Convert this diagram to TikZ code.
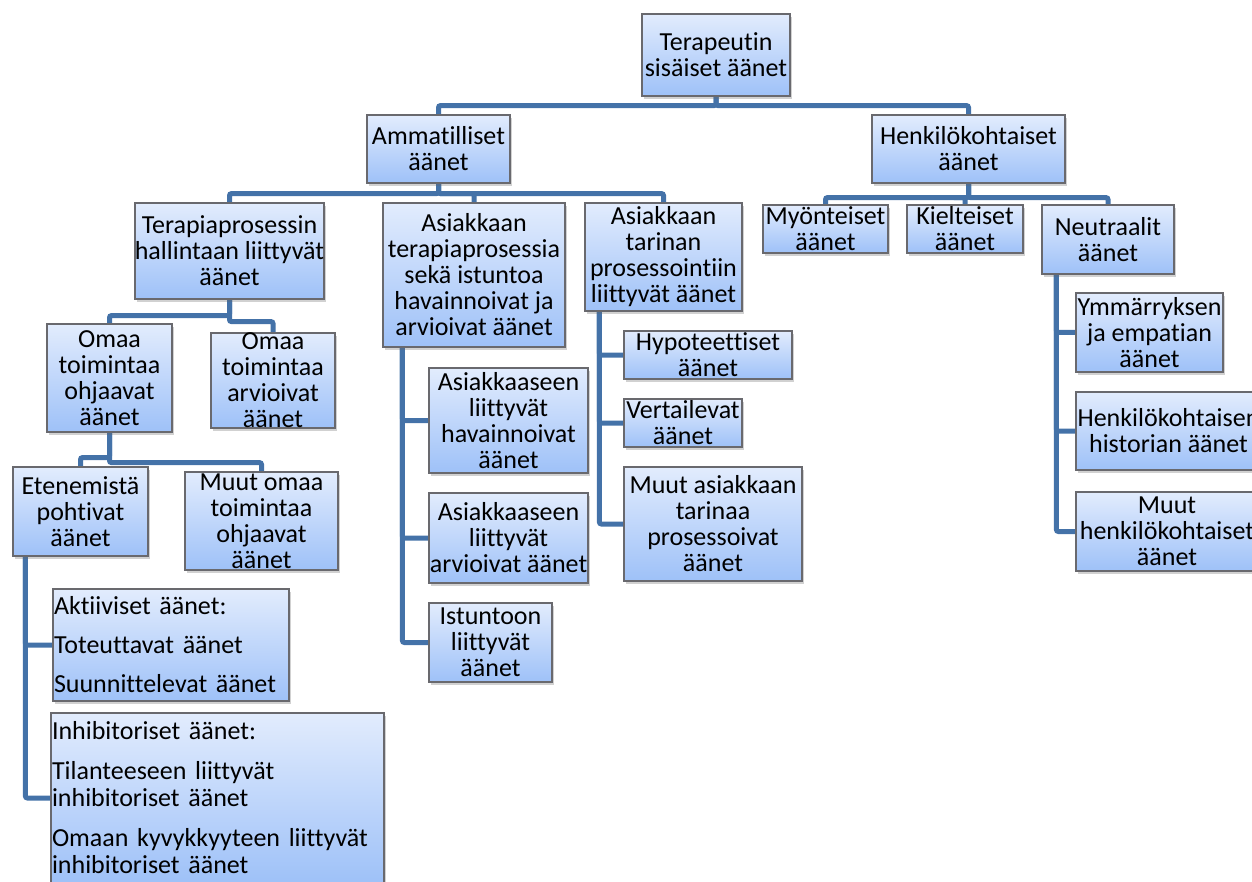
\documentclass[tikz,border=0pt]{standalone}
\usepackage{fontspec}
\setmainfont{Carlito}[Ligatures=NoCommon]
\usetikzlibrary{shadows,backgrounds}
\definecolor{linkblue}{RGB}{68,114,168}
\definecolor{boxtop}{RGB}{226,236,253}
\definecolor{boxbot}{RGB}{158,193,248}
\definecolor{boxrim}{RGB}{105,105,110}
\tikzset{
  box/.style={draw=boxrim, line width=1.2pt, top color=boxtop, bottom color=boxbot,
    drop shadow={shadow xshift=2pt, shadow yshift=-3pt, opacity=.3, fill=black!60},
    inner sep=0pt},
  lbl/.style={align=center, inner sep=0pt, font=\fontsize{26}{26}\selectfont},
  listbox/.style={box, align=left, inner xsep=1pt, font=\fontsize{26}{27}\selectfont},
  conn/.style={draw=linkblue, line width=5pt, rounded corners=2pt},
}
\begin{document}
\begin{tikzpicture}[x=1pt,y=-1pt]
\useasboundingbox (0,0) rectangle (1252,882);
% top levels
\node[box, minimum width=148pt, minimum height=82pt, label={[lbl]center:{Terapeutin\\sisäiset äänet}}] (root) at (716,55) {};
\node[box, minimum width=143pt, minimum height=68pt, label={[lbl]center:{Ammatilliset\\äänet}}] (amm) at (438.5,149) {};
\node[box, minimum width=193pt, minimum height=68pt, label={[lbl]center:{Henkilökohtaiset\\äänet}}] (hen) at (968.5,149) {};
% ammatilliset
\node[box, minimum width=189pt, minimum height=96pt, label={[lbl]center:{Terapiaprosessin\\hallintaan liittyvät\\äänet}}] (ter) at (229.5,251) {};
\node[box, minimum width=182pt, minimum height=144pt, label={[lbl]center:{Asiakkaan\\terapiaprosessia\\sekä istuntoa\\havainnoivat ja\\arvioivat äänet}}] (asi) at (474,275) {};
\node[box, minimum width=157pt, minimum height=108pt, label={[lbl]center:{Asiakkaan\\tarinan\\prosessointiin\\liittyvät äänet}}] (tar) at (663.5,257) {};
% henkilokohtaiset
\node[box, minimum width=125pt, minimum height=48pt, label={[lbl]center:{Myönteiset\\äänet}}] (myo) at (825.5,229) {};
\node[box, minimum width=116pt, minimum height=48pt, label={[lbl]center:{Kielteiset\\äänet}}] (kie) at (965,229) {};
\node[box, minimum width=132pt, minimum height=69pt, label={[lbl]center:{Neutraalit\\äänet}}] (neu) at (1108,239.5) {};
% terapiaprosessin hallinta
\node[box, minimum width=125pt, minimum height=108pt, label={[lbl]center:{Omaa\\toimintaa\\ohjaavat\\äänet}}] (ohj) at (109.5,378) {};
\node[box, minimum width=124pt, minimum height=95pt, label={[lbl]center:{Omaa\\toimintaa\\arvioivat\\äänet}}] (arv) at (273,380.5) {};
\node[box, minimum width=135pt, minimum height=89pt, label={[lbl]center:{Etenemistä\\pohtivat\\äänet}}] (ete) at (80.5,511.5) {};
\node[box, minimum width=153pt, minimum height=98pt, label={[lbl]center:{Muut omaa\\toimintaa\\ohjaavat\\äänet}}] (muo) at (261.5,521) {};
\node[listbox, text width=234pt, minimum height=112pt] (akt) at (171,645) {Aktiiviset äänet:\\[12pt]Toteuttavat äänet\\[12pt]Suunnittelevat äänet};
\node[listbox, text width=331pt, minimum height=170pt] (inh) at (217.5,798) {Inhibitoriset äänet:\\[13pt]Tilanteeseen liittyvät\\inhibitoriset äänet\\[13pt]Omaan kyvykkyyteen liittyvät\\inhibitoriset äänet};
% asiakkaan terapiaprosessi
\node[box, minimum width=159pt, minimum height=105pt, label={[lbl]center:{Asiakkaaseen\\liittyvät\\havainnoivat\\äänet}}] (hav) at (508.5,420.5) {};
\node[box, minimum width=159pt, minimum height=90pt, label={[lbl]center:{Asiakkaaseen\\liittyvät\\arvioivat äänet}}] (arvi) at (508.5,538) {};
\node[box, minimum width=123pt, minimum height=79pt, label={[lbl]center:{Istuntoon\\liittyvät\\äänet}}] (ist) at (490.5,642.5) {};
% asiakkaan tarina
\node[box, minimum width=168pt, minimum height=48pt, label={[lbl]center:{Hypoteettiset\\äänet}}] (hyp) at (708,355) {};
\node[box, minimum width=118pt, minimum height=48pt, label={[lbl]center:{Vertailevat\\äänet}}] (ver) at (683,423) {};
\node[box, minimum width=178pt, minimum height=114pt, label={[lbl]center:{Muut asiakkaan\\tarinaa\\prosessoivat\\äänet}}] (mua) at (713,524) {};
% neutraalit
\node[box, minimum width=147pt, minimum height=79pt, label={[lbl]center:{Ymmärryksen\\ja empatian\\äänet}}] (ymm) at (1149.5,332.5) {};
\node[box, minimum width=185pt, minimum height=78pt, label={[lbl]center:{Henkilökohtaisen\\historian äänet}}] (hhi) at (1168.5,431) {};
\node[box, minimum width=182pt, minimum height=79pt, label={[lbl]center:{Muut\\henkilökohtaiset\\äänet}}] (mhe) at (1167,531.5) {};
% connectors
\begin{scope}[on background layer]
\draw[conn] (root.south) -- ++(0,9) -| (amm.north);
\draw[conn] (root.south) -- ++(0,9) -| (hen.north);
\draw[conn] (amm.south) -- ++(0,10) -| (ter.north);
\draw[conn] (amm.south) -- ++(0,10) -| (asi.north);
\draw[conn] (amm.south) -- ++(0,10) -| (tar.north);
\draw[conn] (hen.south) -- ++(0,14) -| (myo.north);
\draw[conn] (hen.south) -- ++(0,14) -| (kie.north);
\draw[conn] (hen.south) -- ++(0,14) -| (neu.north);
\draw[conn] (ter.south) -- ++(0,16) -| (ohj.north);
\draw[conn] (ter.south) -- ++(0,22) -| (arv.north);
\draw[conn] (ohj.south) -- ++(0,25) -| (ete.north);
\draw[conn] (ohj.south) -- ++(0,30) -| (muo.north);
\draw[conn] (ete.south west) ++(13,0) |- (akt.west);
\draw[conn] (ete.south west) ++(13,0) |- (inh.west);
\draw[conn] (asi.south west) ++(20,0) |- (hav.west);
\draw[conn] (asi.south west) ++(20,0) |- (arvi.west);
\draw[conn] (asi.south west) ++(20,0) |- (ist.west);
\draw[conn] (tar.south west) ++(15,0) |- (hyp.west);
\draw[conn] (tar.south west) ++(15,0) |- (ver.west);
\draw[conn] (tar.south west) ++(15,0) |- (mua.west);
\draw[conn] (neu.south west) ++(15,0) |- (ymm.west);
\draw[conn] (neu.south west) ++(15,0) |- (hhi.west);
\draw[conn] (neu.south west) ++(15,0) |- (mhe.west);
\end{scope}
\end{tikzpicture}
\end{document}
